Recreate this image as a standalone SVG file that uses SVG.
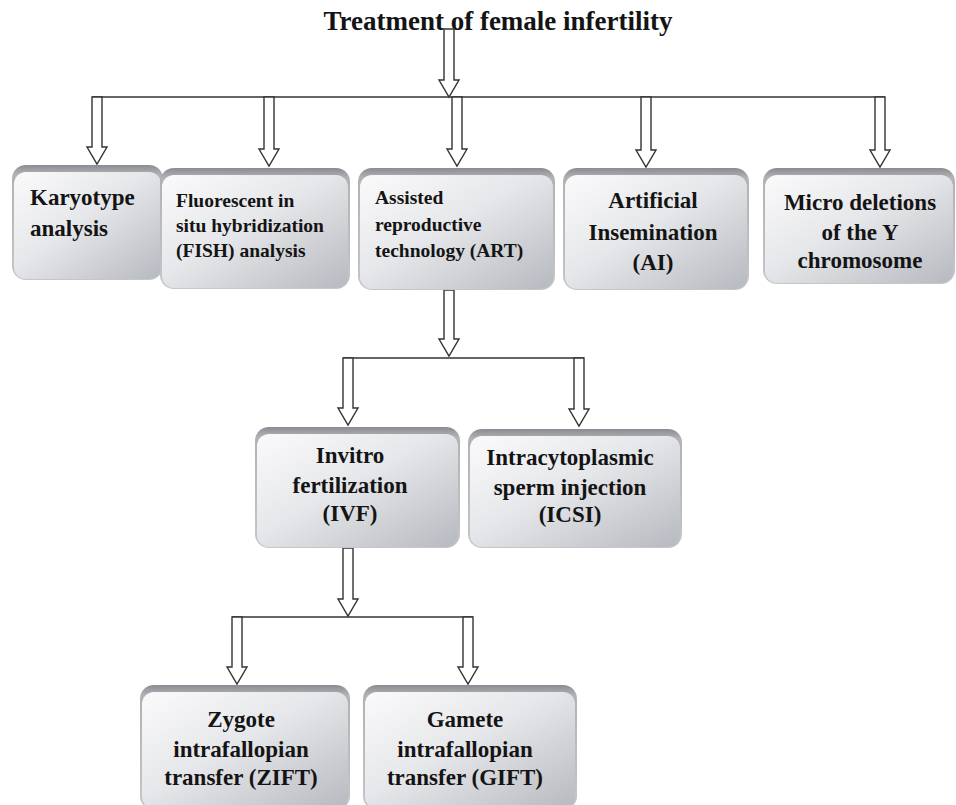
<svg xmlns="http://www.w3.org/2000/svg" width="956" height="805" viewBox="0 0 956 805">
<defs>
<linearGradient id="edge" x1="0" y1="0" x2="0" y2="1">
<stop offset="0" stop-color="#8a8c91"/>
<stop offset="0.08" stop-color="#b0b2b6"/>
<stop offset="1" stop-color="#c4c6ca"/>
</linearGradient>
<linearGradient id="face" x1="0" y1="0" x2="1" y2="1">
<stop offset="0" stop-color="#fafafb"/>
<stop offset="0.45" stop-color="#e6e7ea"/>
<stop offset="1" stop-color="#b6b9bf"/>
</linearGradient>
</defs>
<style>
.t{font-family:"Liberation Serif","Times New Roman",serif;font-weight:bold;fill:#141414}
.c{text-anchor:middle}
.big{font-size:23px}
.sm{font-size:19.5px}
.title{font-size:27px}
.ln{stroke:#333;stroke-width:1.5;fill:none}
.ar{fill:#fff;stroke:#333;stroke-width:1.4;stroke-linejoin:miter}
.edge{fill:url(#edge)}
.face{fill:url(#face)}
</style>
<rect width="956" height="805" fill="#fff"/>
<text class="t title c" x="498" y="30">Treatment of female infertility</text>

<g id="connectors">
<line class="ln" x1="92" y1="97" x2="885" y2="97"/>
<line class="ln" x1="343" y1="358" x2="584" y2="358"/>
<line class="ln" x1="232" y1="617" x2="473" y2="617"/>
<path class="ar" d="M444,29 H454 V80 H459 L449,97 L439,80 H444 Z"/>
<path class="ar" d="M92,97 H102 V147 H107 L97,164 L87,147 H92 Z"/>
<path class="ar" d="M264,97 H274 V149 H279 L269,166 L259,149 H264 Z"/>
<path class="ar" d="M452,97 H462 V149 H467 L457,166 L447,149 H452 Z"/>
<path class="ar" d="M641,97 H651 V150 H656 L646,167 L636,150 H641 Z"/>
<path class="ar" d="M875,97 H885 V150 H890 L880,167 L870,150 H875 Z"/>
<path class="ar" d="M444,290 H454 V339 H459 L449,356 L439,339 H444 Z"/>
<path class="ar" d="M343,358 H353 V408 H358 L348,425 L338,408 H343 Z"/>
<path class="ar" d="M574,358 H584 V409 H589 L579,426 L569,409 H574 Z"/>
<path class="ar" d="M343,548 H353 V599 H358 L348,616 L338,599 H343 Z"/>
<path class="ar" d="M232,617 H242 V667 H247 L237,684 L227,667 H232 Z"/>
<path class="ar" d="M463,617 H473 V667 H478 L468,684 L458,667 H463 Z"/>
</g>

<g id="karyotype">
<rect class="edge" x="12" y="165" width="151" height="115" rx="14"/>
<rect class="face" x="14" y="172" width="147" height="107" rx="12"/>
<text class="t big" x="30" y="205">Karyotype</text>
<text class="t big" x="30" y="236">analysis</text>
</g>

<g id="fish">
<rect class="edge" x="160" y="168" width="190" height="121" rx="14"/>
<rect class="face" x="162" y="175" width="186" height="113" rx="12"/>
<text class="t sm" x="176" y="207">Fluorescent in</text>
<text class="t sm" x="176" y="232">situ hybridization</text>
<text class="t sm" x="176" y="257">(FISH) analysis</text>
</g>

<g id="art">
<rect class="edge" x="358" y="168" width="197" height="122" rx="14"/>
<rect class="face" x="360" y="175" width="193" height="114" rx="12"/>
<text class="t sm" x="375" y="204">Assisted</text>
<text class="t sm" x="375" y="231">reproductive</text>
<text class="t sm" x="375" y="257">technology (ART)</text>
</g>

<g id="ai">
<rect class="edge" x="563" y="168" width="186" height="122" rx="14"/>
<rect class="face" x="565" y="175" width="182" height="114" rx="12"/>
<text class="t big c" x="653" y="208">Artificial</text>
<text class="t big c" x="653" y="240">Insemination</text>
<text class="t big c" x="653" y="270">(AI)</text>
</g>

<g id="micro">
<rect class="edge" x="763" y="168" width="192" height="116" rx="14"/>
<rect class="face" x="765" y="175" width="188" height="108" rx="12"/>
<text class="t big c" x="860" y="210">Micro deletions</text>
<text class="t big c" x="860" y="240">of the Y</text>
<text class="t big c" x="860" y="268">chromosome</text>
</g>

<g id="ivf">
<rect class="edge" x="255" y="427" width="205" height="121" rx="14"/>
<rect class="face" x="257" y="434" width="201" height="113" rx="12"/>
<text class="t big c" x="350" y="463">Invitro</text>
<text class="t big c" x="350" y="493">fertilization</text>
<text class="t big c" x="350" y="521">(IVF)</text>
</g>

<g id="icsi">
<rect class="edge" x="468" y="429" width="214" height="119" rx="14"/>
<rect class="face" x="470" y="436" width="210" height="111" rx="12"/>
<text class="t big c" x="570" y="465">Intracytoplasmic</text>
<text class="t big c" x="570" y="495">sperm injection</text>
<text class="t big c" x="570" y="522">(ICSI)</text>
</g>

<g id="zift">
<rect class="edge" x="140" y="685" width="210" height="125" rx="14"/>
<rect class="face" x="142" y="692" width="206" height="117" rx="12"/>
<text class="t big c" x="241" y="727">Zygote</text>
<text class="t big c" x="241" y="757">intrafallopian</text>
<text class="t big c" x="241" y="785">transfer (ZIFT)</text>
</g>

<g id="gift">
<rect class="edge" x="363" y="685" width="214" height="125" rx="14"/>
<rect class="face" x="365" y="692" width="210" height="117" rx="12"/>
<text class="t big c" x="465" y="727">Gamete</text>
<text class="t big c" x="465" y="757">intrafallopian</text>
<text class="t big c" x="465" y="785">transfer (GIFT)</text>
</g>
</svg>
